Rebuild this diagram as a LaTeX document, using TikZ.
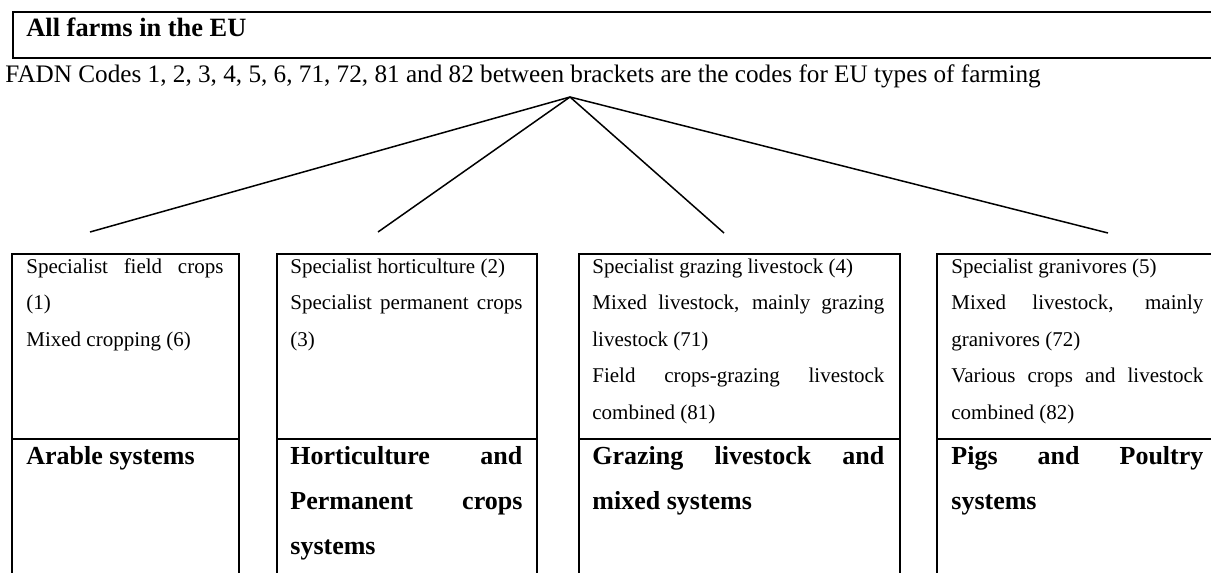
\documentclass[tikz,border=0pt]{standalone}
\usepackage{fontspec}
\setmainfont{Liberation Serif}
\usetikzlibrary{positioning}
\tolerance=9999
\hyphenpenalty=10000
\exhyphenpenalty=10000

\begin{document}
\begin{tikzpicture}[x=0.5pt, y=-0.5pt,
    frame/.style={draw, line width=1pt, anchor=north west, inner sep=0pt},
    codes/.style={anchor=base west, inner sep=0pt, align=justify,
       font=\fontsize{10.5}{18.3}\selectfont},
    system/.style={anchor=base west, inner sep=0pt, align=justify,
       font=\fontsize{13}{22.5}\selectfont\bfseries},
    branch/.style={line width=0.75pt}]
   \useasboundingbox (0,0) rectangle (1211,573);
   % Top box
   \node[frame, minimum width=610pt, minimum height=23pt] (eu) at (12,11) {};
   \node[anchor=base west, inner sep=0pt, font=\fontsize{13.2}{15}\selectfont\bfseries]
      (eu-title) at (26,36) {All farms in the EU};
   \node[anchor=base west, inner sep=0pt, font=\fontsize{12.6}{15}\selectfont]
      (fadn) at (5,83) {FADN Codes 1, 2, 3, 4, 5, 6, 71, 72, 81 and 82 between brackets are the codes for EU types of farming};
   % Branches
   \coordinate (apex) at (570,97);
   \coordinate (arable-end) at (90,232);
   \coordinate (hort-end) at (378,232);
   \coordinate (graze-end) at (724,233);
   \coordinate (pigs-end) at (1108,233);
   \foreach \e in {arable,hort,graze,pigs}
      \draw[branch] (apex) -- (\e-end);
   % Frames (upper: codes, lower: systems)
   \node[frame, minimum width=113.5pt, minimum height=92.5pt] (arable) at (11,253) {};
   \node[frame, minimum width=113.5pt, minimum height=100pt] (arable-sys) at (11,438) {};
   \node[frame, minimum width=130pt, minimum height=92.5pt] (hort) at (276,253) {};
   \node[frame, minimum width=130pt, minimum height=100pt] (hort-sys) at (276,438) {};
   \node[frame, minimum width=160.5pt, minimum height=92.5pt] (graze) at (578,253) {};
   \node[frame, minimum width=160.5pt, minimum height=100pt] (graze-sys) at (578,438) {};
   \node[frame, minimum width=150pt, minimum height=92.5pt] (pigs) at (936,253) {};
   \node[frame, minimum width=150pt, minimum height=100pt] (pigs-sys) at (936,438) {};
   % Codes
   \node[codes, text width=98.5pt] (arable-codes) at (26,273)
      {Specialist field crops (1)\\ Mixed cropping (6)};
   \node[codes, text width=116pt] (hort-codes) at (290,273)
      {Specialist horticulture (2)\\ Specialist permanent crops (3)};
   \node[codes, text width=146pt] (graze-codes) at (592,273)
      {Specialist grazing livestock (4)\\ Mixed livestock, mainly grazing livestock (71)\\ Field crops-grazing livestock combined (81)};
   \node[codes, text width=126pt] (pigs-codes) at (951,273)
      {Specialist granivores (5)\\ Mixed livestock, mainly granivores (72)\\ Various crops and livestock combined (82)};
   % Systems
   \node[system, text width=98.5pt] (arable-name) at (26,464) {Arable systems};
   \node[system, text width=116pt] (hort-name) at (290,464) {Horticulture and Permanent crops systems};
   \node[system, text width=146pt] (graze-name) at (592,464) {Grazing livestock and mixed systems};
   \node[system, text width=126pt] (pigs-name) at (951,464) {Pigs and Poultry systems};
\end{tikzpicture}
\end{document}
